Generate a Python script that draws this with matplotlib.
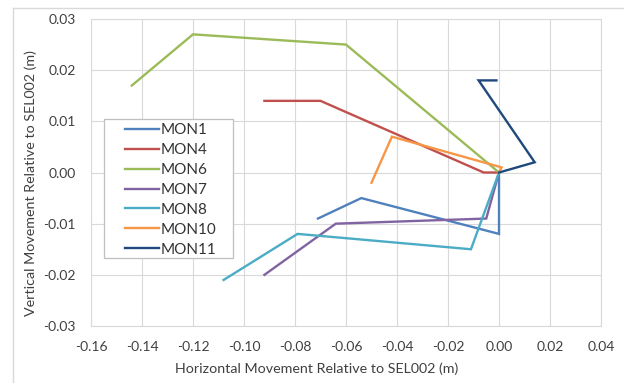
import matplotlib
matplotlib.use("Agg")
import matplotlib.pyplot as plt
from matplotlib.lines import Line2D
from matplotlib.patches import Rectangle

plt.rcParams['font.family'] = ['Lato', 'DejaVu Sans']

series_names = ["MON1", "MON4", "MON6", "MON7", "MON8", "MON10", "MON11"]
colors = ["#4F81BD", "#C0504D", "#9BBB59", "#8064A2", "#4BACC6", "#F79646", "#1F497D"]

mon1_x = [0.0, 0.0, -0.054, -0.071]
mon1_y = [0.0, -0.012, -0.005, -0.009]
mon4_x = [0.0, -0.006, -0.070, -0.092]
mon4_y = [0.0, 0.0, 0.014, 0.014]
mon6_x = [0.0, -0.060, -0.120, -0.144]
mon6_y = [0.0, 0.025, 0.027, 0.017]
mon7_x = [0.0, -0.005, -0.064, -0.092]
mon7_y = [0.0, -0.009, -0.010, -0.020]
mon8_x = [0.0, -0.011, -0.079, -0.108]
mon8_y = [0.0, -0.015, -0.012, -0.021]
mon10_x = [0.0, 0.001, -0.042, -0.050]
mon10_y = [0.0, 0.001, 0.007, -0.002]
mon11_x = [0.0, 0.014, -0.008, -0.001]
mon11_y = [0.0, 0.002, 0.018, 0.018]

xs = [mon1_x, mon4_x, mon6_x, mon7_x, mon8_x, mon10_x, mon11_x]
ys = [mon1_y, mon4_y, mon6_y, mon7_y, mon8_y, mon10_y, mon11_y]

x_ticks = [-0.16, -0.14, -0.12, -0.10, -0.08, -0.06, -0.04, -0.02, 0.00, 0.02, 0.04]
y_ticks = [-0.03, -0.02, -0.01, 0.00, 0.01, 0.02, 0.03]

W, H = 624, 383
fig = plt.figure(figsize=(W / 100, H / 100), dpi=100)
ax = fig.add_axes([91 / W, 1 - 326 / H, (601 - 91) / W, (326 - 19) / H])

for x, y, c, n in zip(xs, ys, colors, series_names):
    ax.plot(x, y, color=c, lw=1.7, label=n, solid_joinstyle='miter')

ax.set_xlim(-0.16, 0.04)
ax.set_ylim(-0.03, 0.03)
ax.set_xticks(x_ticks)
ax.set_yticks(y_ticks)
ax.set_xticklabels([f"{v:.2f}" for v in x_ticks])
ax.set_yticklabels([f"{v:.2f}" for v in y_ticks])
ax.tick_params(length=0, labelsize=10, colors="#404040")
ax.tick_params(axis="x", pad=11)
ax.tick_params(axis="y", pad=11)
ax.grid(True, color="#d9d9d9", lw=0.8)
ax.set_axisbelow(True)
for s in ax.spines.values():
    s.set_color("#d9d9d9")
    s.set_linewidth(0.8)

# legend frame (drawn inside the axes, under the legend)
frame = Rectangle((104 / W, 1 - 258 / H), (233 - 104) / W, (258 - 119) / H,
                  transform=fig.transFigure, facecolor="white", edgecolor="#bfbfbf",
                  lw=0.9, zorder=4, clip_on=False)
ax.add_patch(frame)

leg = ax.legend(loc="upper left", bbox_to_anchor=(125 / W, 1 - 123 / H),
                bbox_transform=fig.transFigure,
                frameon=False, fontsize=11, handlelength=2.2,
                handletextpad=0.15, labelspacing=0.39, borderpad=0, borderaxespad=0)
leg.set_zorder(6)
for t in leg.get_texts():
    t.set_color("#333333")

fig.text(317 / W, 1 - 369 / H, "Horizontal Movement Relative to SEL002 (m)",
         ha="center", va="center", fontsize=10.3, color="#404040")
fig.text(31 / W, 1 - 183 / H, "Vertical Movement Relative to SEL002 (m)",
         ha="center", va="center", rotation=90, fontsize=10.3, color="#404040")

# chart area border (top and left edges visible)
fig.add_artist(Line2D([13 / W, 1.0], [1 - 8 / H, 1 - 8 / H], transform=fig.transFigure, color="#d9d9d9", lw=1))
fig.add_artist(Line2D([13 / W, 13 / W], [0.0, 1 - 8 / H], transform=fig.transFigure, color="#d9d9d9", lw=1))

fig.savefig("out.png", dpi=100)
